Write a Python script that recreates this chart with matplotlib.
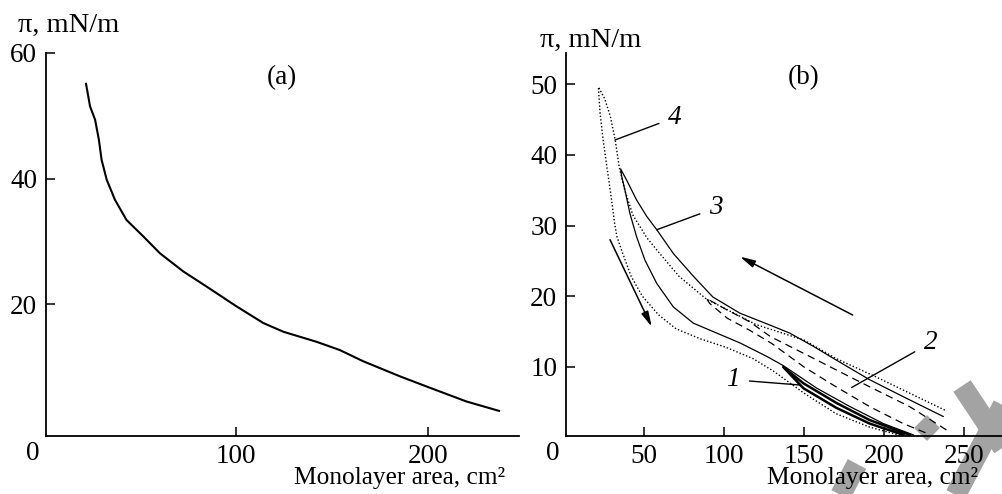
import matplotlib.pyplot as plt
from matplotlib.lines import Line2D
from matplotlib.patches import Polygon

plt.rcParams["font.family"] = ["Liberation Serif", "DejaVu Serif"]
FS = 19.5      # tick labels, panel tags, curve numbers
FS_LAB = 18.3  # x axis titles
FS_PI = 20.5   # y axis titles

# panel (a): single isotherm
A_X = [21.9, 24.0, 26.6, 28.6, 30.0, 32.7, 37.0, 43.0, 51.7, 60.4, 72.6, 84.7,
       100.0, 114.2, 124.7, 142.0, 154.0, 166.3, 185.4, 200.0, 220.0, 237.0]
A_Y = [55.1, 51.5, 49.4, 46.2, 43.0, 39.8, 36.6, 33.4, 30.8, 28.1, 25.2, 22.8,
       19.7, 17.0, 15.6, 14.0, 12.7, 10.9, 8.5, 6.8, 4.5, 3.0]

# panel (b): compression (upper) / expansion (lower) cycles 1-4
C1_X = [216, 191, 170.4, 149.6, 137, 149.6, 170.4, 191, 212]
C1_Y = [0.4, 2.5, 4.9, 7.7, 10.0, 7.0, 4.2, 2.0, 0.4]

C2_X = [239, 216, 191, 170, 150, 129, 116, 100, 89, 91, 102, 116, 130, 150, 170, 191, 212, 227]
C2_Y = [1.1, 4.4, 7.2, 9.6, 11.9, 14.3, 16.4, 18.3, 19.7, 19.0, 16.9, 15.2, 13.3, 10.0, 7.2, 4.4, 2.0, 0.6]

C3_X = [237, 212, 191, 170, 156, 141, 129, 110, 93, 81, 68.5, 58, 51.7, 45.4, 39.2, 35.4,
        36, 38.1, 41.2, 45.4, 50.6, 58, 68.3, 80.8, 95.4, 110, 126.7, 137, 147.5, 158,
        178.7, 199.6, 218.3]
C3_Y = [3.0, 5.8, 8.2, 11.0, 12.9, 14.8, 15.9, 17.6, 19.9, 22.8, 26.0, 29.4, 31.3, 33.6,
        36.4, 38.0, 37.0, 35.0, 31.7, 28.4, 25.1, 21.8, 18.5, 16.2, 14.8, 13.4, 11.5,
        10.2, 8.6, 7.0, 4.4, 2.0, 0.4]

C4_X = [238, 216, 195, 170, 150, 135, 120, 102, 89, 72, 60, 52, 43, 38, 34.5, 32, 29,
        25.5, 21.5, 22.5, 24.5, 27, 29.5, 31.5, 33, 36, 42, 49, 59, 70, 85, 101, 118,
        131, 150, 170, 191, 212]
C4_Y = [3.9, 6.3, 8.6, 11.2, 13.8, 14.9, 16.0, 18.1, 19.6, 22.8, 26.0, 28.2, 31.5, 35.0,
        38.3, 42.1, 45.4, 47.9, 49.6, 46.0, 42.0, 38.0, 34.0, 30.5, 28.5, 26.5, 22.8,
        20.0, 17.4, 15.4, 14.0, 12.8, 11.2, 9.4, 6.3, 3.4, 1.5, 0.2]

# curve number labels: (text, label x, label y, leader end x, leader end y)
LABELS = [("4", 69.4, 45.3, 31.9, 42.1),
          ("3", 95.0, 32.5, 57.9, 29.4),
          ("2", 229.0, 13.4, 179.8, 7.1),
          ("1", 105.6, 8.2, 147.5, 7.45)]

W, H = 1002, 494
fig = plt.figure(figsize=(W / 100, H / 100), dpi=100)


def px(x0, y0, x1, y1):
    return [x0 / W, 1 - y1 / H, (x1 - x0) / W, (y1 - y0) / H]


def style(ax):
    ax.set_facecolor("none")
    for s in ("top", "right"):
        ax.spines[s].set_visible(False)
    for s in ("left", "bottom"):
        ax.spines[s].set_linewidth(1.3)
    ax.tick_params(direction="in", length=6.5, width=1.1, labelsize=FS, pad=6)
    ax.annotate("0", xy=(0, 0), xycoords="axes fraction", xytext=(-9.5, -12.5),
                textcoords="offset points", ha="center", va="center", fontsize=FS)


axa = fig.add_axes(px(45.5, 53, 519, 436))
axa.plot(A_X, A_Y, color="k", lw=1.5)
axa.set_xlim(0.8, 247.4)
axa.set_ylim(-1, 60)
axa.set_xticks([100, 200])
axa.set_yticks([20, 40, 60])
style(axa)
axa.text(0.50, 0.935, "(a)", transform=axa.transAxes, ha="center", va="center", fontsize=FS)

axb = fig.add_axes(px(565.7, 53, 1002, 436))
axb.plot(C4_X, C4_Y, color="k", lw=1.0, ls=(0, (1, 1.5)))
axb.plot(C3_X, C3_Y, color="k", lw=0.9)
axb.plot(C2_X, C2_Y, color="k", lw=0.9, ls=(0, (6, 4)))
axb.plot(C1_X, C1_Y, color="k", lw=1.8)
for t, lx, ly, ex, ey in LABELS:
    axb.annotate(t, xy=(ex, ey), xytext=(lx, ly), fontsize=FS, style="italic",
                 ha="center", va="center",
                 arrowprops=dict(arrowstyle="-", lw=1.0, color="k", shrinkA=5, shrinkB=0))
arrow = dict(arrowstyle="-|>,head_length=0.9,head_width=0.22", lw=1.1, color="k",
             shrinkA=0, shrinkB=0)
axb.annotate("", xy=(54.8, 15.7), xytext=(28.75, 28.0), arrowprops=arrow)
axb.annotate("", xy=(110, 25.6), xytext=(180.4, 17.35), arrowprops=arrow)
axb.set_xlim(1.06, 273.75)
axb.set_ylim(0.24, 54.4)
axb.set_xticks([50, 100, 150, 200, 250])
axb.set_yticks([10, 20, 30, 40, 50])
style(axb)
axb.text(0.545, 0.935, "(b)", transform=axb.transAxes, ha="center", va="center", fontsize=FS)

fig.text(18 / W, 1 - 25 / H, "π, mN/m", fontsize=FS_PI, ha="left", va="center")
fig.text(540 / W, 1 - 40 / H, "π, mN/m", fontsize=FS_PI, ha="left", va="center")
fig.text(505 / W, 1 - 478 / H, "Monolayer area, cm²", fontsize=FS_LAB, ha="right", va="center")
fig.text(978 / W, 1 - 478 / H, "Monolayer area, cm²", fontsize=FS_LAB, ha="right", va="center")

# grey watermark crosses behind the lower right corner
grey = "#a3a3a3"
for (x0, y0), (x1, y1) in [((962, 386), (1010, 458)), ((1010, 392), (952, 502)),
                           ((857, 464), (838, 500))]:
    fig.add_artist(Line2D([x0 / W, x1 / W], [1 - y0 / H, 1 - y1 / H], lw=15,
                          color=grey, solid_capstyle="butt", zorder=-1))
fig.add_artist(Polygon([(927 / W, 1 - 416 / H), (939 / W, 1 - 428 / H),
                        (927 / W, 1 - 440 / H), (915 / W, 1 - 428 / H)],
                       closed=True, color=grey, zorder=-1))

fig.savefig("out.png", dpi=100)
